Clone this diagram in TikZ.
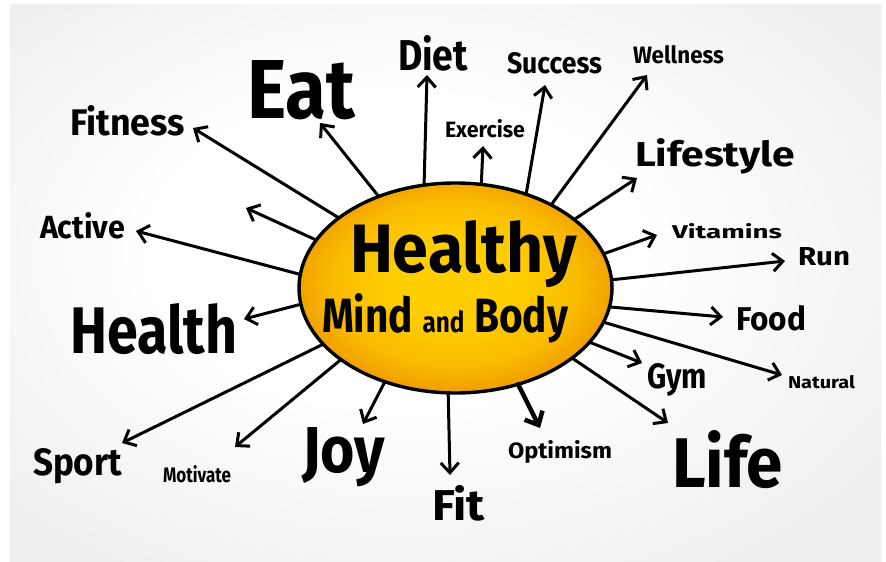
\documentclass[tikz,border=0pt]{standalone}
\usepackage{fontspec}
\setmainfont{Fira Sans}
\usepackage{graphicx}
\usetikzlibrary{arrows.meta,shapes.geometric}
\definecolor{sunin}{HTML}{FFCE00}
\definecolor{sunmid}{HTML}{FABA00}
\definecolor{sunout}{HTML}{EF9D00}
\definecolor{bgedge}{HTML}{EFEFEF}
\pgfdeclareradialshading{sunshade}{\pgfpoint{0bp}{2bp}}{color(0bp)=(sunin); color(10bp)=(sunin); color(20bp)=(sunmid); color(26bp)=(sunout); color(50bp)=(sunout)}
\pgfdeclareradialshading{bgshade}{\pgfpoint{-4bp}{4bp}}{color(0bp)=(white); color(14bp)=(white); color(32bp)=(bgedge); color(50bp)=(bgedge)}
\newcommand\lbl[3]{\resizebox{#1pt}{#2pt}{\bfseries #3}}
\begin{document}
\begin{tikzpicture}[x=1pt,y=-1pt,
  ray/.style={line width=3pt, line cap=round, line join=round, -{Straight Barb[length=10pt,width=18pt]}},
  bigray/.style={line width=4.5pt, line cap=round, line join=round, -{Straight Barb[length=11pt,width=20pt]}},
  word/.style={anchor=base west, inner sep=0pt, outer sep=0pt}]
\useasboundingbox (0,0) rectangle (886,562);
\fill[white] (0,0) rectangle (886,562);
\shade[shading=bgshade] (10,4) rectangle (881,561);

% central ellipse
\node[ellipse, draw, line width=3.4pt, minimum width=313pt, minimum height=210pt,
      inner sep=0pt, outer sep=0pt, shading=sunshade] (c) at (455.5,288) {};
\node[word] (healthy) at (350,272) {\lbl{227}{52}{Healthy}};
\node[word] (mind) at (322,332) {\lbl{246}{39}{Mind \scalebox{0.6}{and} Body}};

% labels
\node[word] (eat) at (247,118) {\lbl{108}{58}{Eat}};
\node[word] (diet) at (398,70) {\lbl{70}{35}{Diet}};
\node[word] (fitness) at (70,135) {\lbl{115}{30}{Fitness}};
\node[word] (exercise) at (445,137) {\lbl{80}{18}{Exercise}};
\node[word] (success) at (507,73) {\lbl{95}{21}{Success}};
\node[word] (wellness) at (633,63) {\lbl{91}{18}{Wellness}};
\node[word] (lifestyle) at (635,166) {\lbl{160}{28}{Lifestyle}};
\node[word] (vitamins) at (672,238) {\lbl{110}{15}{Vitamins}};
\node[word] (run) at (798,265) {\lbl{52}{18}{Run}};
\node[word] (food) at (736,330) {\lbl{70}{25}{Food}};
\node[word] (natural) at (788,388) {\lbl{67}{13}{Natural}};
\node[word] (gym) at (647,388) {\lbl{60}{25}{Gym}};
\node[word] (life) at (672,487) {\lbl{111}{57}{Life}};
\node[word] (optimism) at (508,458) {\lbl{104}{18}{Optimism}};
\node[word] (fit) at (432,520) {\lbl{53}{35}{Fit}};
\node[word] (joy) at (302,472) {\lbl{83}{45}{Joy}};
\node[word] (motivate) at (163,482) {\lbl{68}{17}{Motivate}};
\node[word] (sport) at (33,475) {\lbl{89}{27}{Sport}};
\node[word] (health) at (70,353) {\lbl{167}{50}{Health}};
\node[word] (active) at (40,238) {\lbl{85}{26}{Active}};

% arrow tips
\coordinate (tdiet) at (427,75);
\coordinate (teat) at (320,123);
\coordinate (tfitness) at (193,128);
\coordinate (tblank) at (246,208);
\coordinate (tactive) at (136,231);
\coordinate (thealth) at (244,319);
\coordinate (tsport) at (122,443);
\coordinate (tmotivate) at (235,447);
\coordinate (tjoy) at (363,424);
\coordinate (tfit) at (450,475);
\coordinate (toptimism) at (540,428);
\coordinate (tlife) at (668,423);
\coordinate (tgym) at (642,363);
\coordinate (tnatural) at (782,375);
\coordinate (tfood) at (723,317);
\coordinate (trun) at (785,261);
\coordinate (tvitamins) at (657,235);
\coordinate (tlifestyle) at (637,178);
\coordinate (twellness) at (647,75);
\coordinate (tsuccess) at (545,85);
\coordinate (texercise) at (483,146);

% arrows
\draw[ray] (c.107.5) -- (tdiet);
\draw[ray] (c.130.9) -- (teat);
\draw[ray] (c.149.5) -- (tfitness);
\draw[ray] (c.161.5) -- (tblank);
\draw[ray] (c.175.3) -- (tactive);
\draw[ray] (c.186.9) -- (thealth);
\draw[ray] (c.203.6) -- (tsport);
\draw[ray] (c.212.6) -- (tmotivate);
\draw[ray] (c.233.3) -- (tjoy);
\draw[ray] (c.266) -- (tfit);
\draw[bigray] (c.303.9) -- (toptimism);
\draw[ray] (c.329.6) -- (tlife);
\draw[ray] (c.338.8) -- (tgym);
\draw[ray] (c.347) -- (tnatural);
\draw[ray] (c.353.4) -- (tfood);
\draw[ray] (c.3.9) -- (trun);
\draw[ray] (c.13.1) -- (tvitamins);
\draw[ray] (c.30.5) -- (tlifestyle);
\draw[ray] (c.41.3) -- (twellness);
\draw[ray] (c.53) -- (tsuccess);
\draw[ray] (c.76.3) -- (texercise);
\end{tikzpicture}
\end{document}
